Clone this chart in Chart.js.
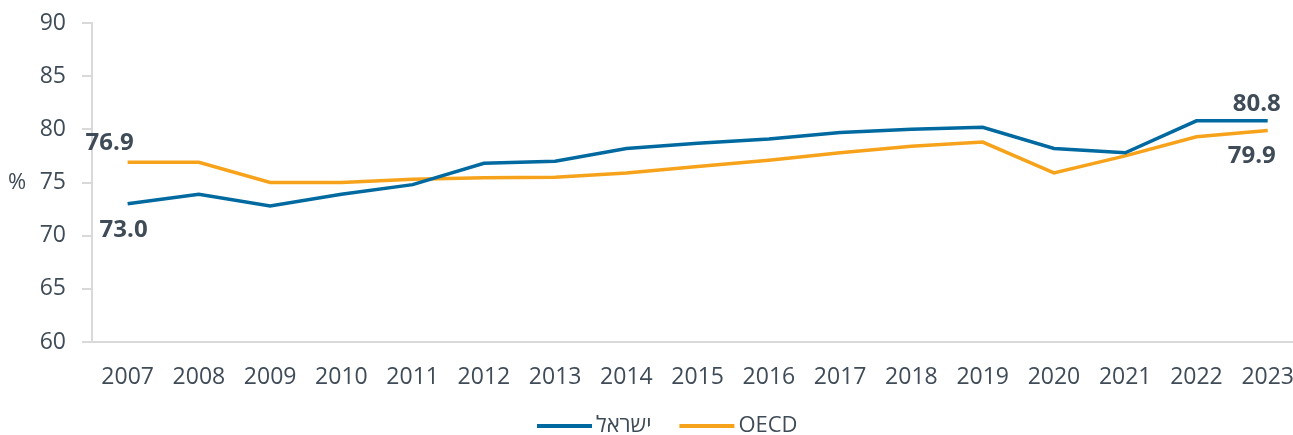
<!DOCTYPE html>
<html>
<head>
<meta charset="utf-8">
<script src="https://cdn.jsdelivr.net/npm/chart.js@4/dist/chart.umd.min.js"></script>
<style>
  html, body { margin: 0; padding: 0; background: #fff; overflow: hidden; }
  #wrap { width: 1316px; height: 435px; }
</style>
</head>
<body>
<div id="wrap"><canvas id="chart" width="1316" height="435"></canvas></div>
<script>
var years = ["2007","2008","2009","2010","2011","2012","2013","2014","2015","2016","2017","2018","2019","2020","2021","2022","2023"];
var israel = [73.0, 73.9, 72.8, 73.9, 74.8, 76.8, 77.0, 78.2, 78.7, 79.1, 79.7, 80.0, 80.2, 78.2, 77.8, 80.8, 80.8];
var oecd   = [76.9, 76.9, 75.0, 75.0, 75.3, 75.45, 75.5, 75.9, 76.5, 77.1, 77.8, 78.4, 78.8, 75.9, 77.5, 79.3, 79.9];
var yTicks = [60, 65, 70, 75, 80, 85, 90];

var textColor = "#3f4b57";
var blue = "#0069a0";
var orange = "#f7a21b";
var fontFamily = "'Open Sans'";

// labels for first/last points: [dataset, index, dx, dy]
var endLabels = [
    [1, 0, -18, -19],
    [0, 0, -4, 26],
    [0, 16, -11, -17],
    [1, 16, -16, 26]
];

var extras = {
    id: "extras",
    afterDatasetsDraw: function(chart)
    {
        var ctx = chart.ctx;
        ctx.save();
        ctx.fillStyle = textColor;
        ctx.textAlign = "center";
        ctx.textBaseline = "middle";

        //Value labels
        ctx.font = "bold 24px " + fontFamily;
        endLabels.forEach(function(l){
            var pt = chart.getDatasetMeta(l[0]).data[l[1]];
            var v = chart.data.datasets[l[0]].data[l[1]];
            ctx.fillText(v.toFixed(1), pt.x + l[2], pt.y + l[3]);
        });

        //Percent sign as the y title
        ctx.font = "22px " + fontFamily;
        ctx.fillText("%", 17, chart.scales.y.getPixelForValue(75));

        //Legend
        ctx.font = "22px " + fontFamily;
        ctx.textAlign = "left";
        var lx = 537, ly = 426;
        chart.data.datasets.forEach(function(ds){
            ctx.fillStyle = ds.borderColor;
            ctx.fillRect(lx, ly - 2, 55, 4);
            ctx.fillStyle = textColor;
            var w = ctx.measureText(ds.label).width;
            ctx.fillText(ds.label, lx + 59, ly);
            lx += 59 + w + 28;
        });
        ctx.restore();
    }
};

new Chart(document.getElementById("chart"), {
    type: "line",
    data: {
        labels: years,
        datasets: [
            { label: "ישראל", data: israel, borderColor: blue, backgroundColor: blue, borderWidth: 3.5, pointRadius: 0, tension: 0 },
            { label: "OECD", data: oecd, borderColor: orange, backgroundColor: orange, borderWidth: 3.5, pointRadius: 0, tension: 0 }
        ]
    },
    options: {
        responsive: false,
        animation: false,
        layout: { padding: { top: 23, left: 0, right: 0, bottom: 37 } },
        plugins: {
            tooltip: { enabled: false },
            legend: { display: false }
        },
        scales: {
            x: {
                offset: true,
                grid: { display: false, drawTicks: false },
                border: { display: true, color: "#d9d9d9", width: 2 },
                ticks: { color: textColor, font: { family: fontFamily, size: 23 }, padding: 22, maxRotation: 0, autoSkip: false },
                afterFit: function(scale) { scale.height = 56; }
            },
            y: {
                min: 60,
                max: 90,
                afterBuildTicks: function(scale) { scale.ticks = yTicks.map(function(v){ return { value: v }; }); },
                grid: { drawOnChartArea: false, drawTicks: true, tickLength: 10, color: "#d9d9d9", lineWidth: 2 },
                border: { display: true, color: "#d9d9d9", width: 2 },
                ticks: { color: textColor, font: { family: fontFamily, size: 23 }, padding: 16 },
                afterFit: function(scale) {
                    scale.width = 92;
                    scale.paddingTop = 0;
                    scale.paddingBottom = 0;
                }
            }
        }
    },
    plugins: [extras]
});
</script>
</body>
</html>
